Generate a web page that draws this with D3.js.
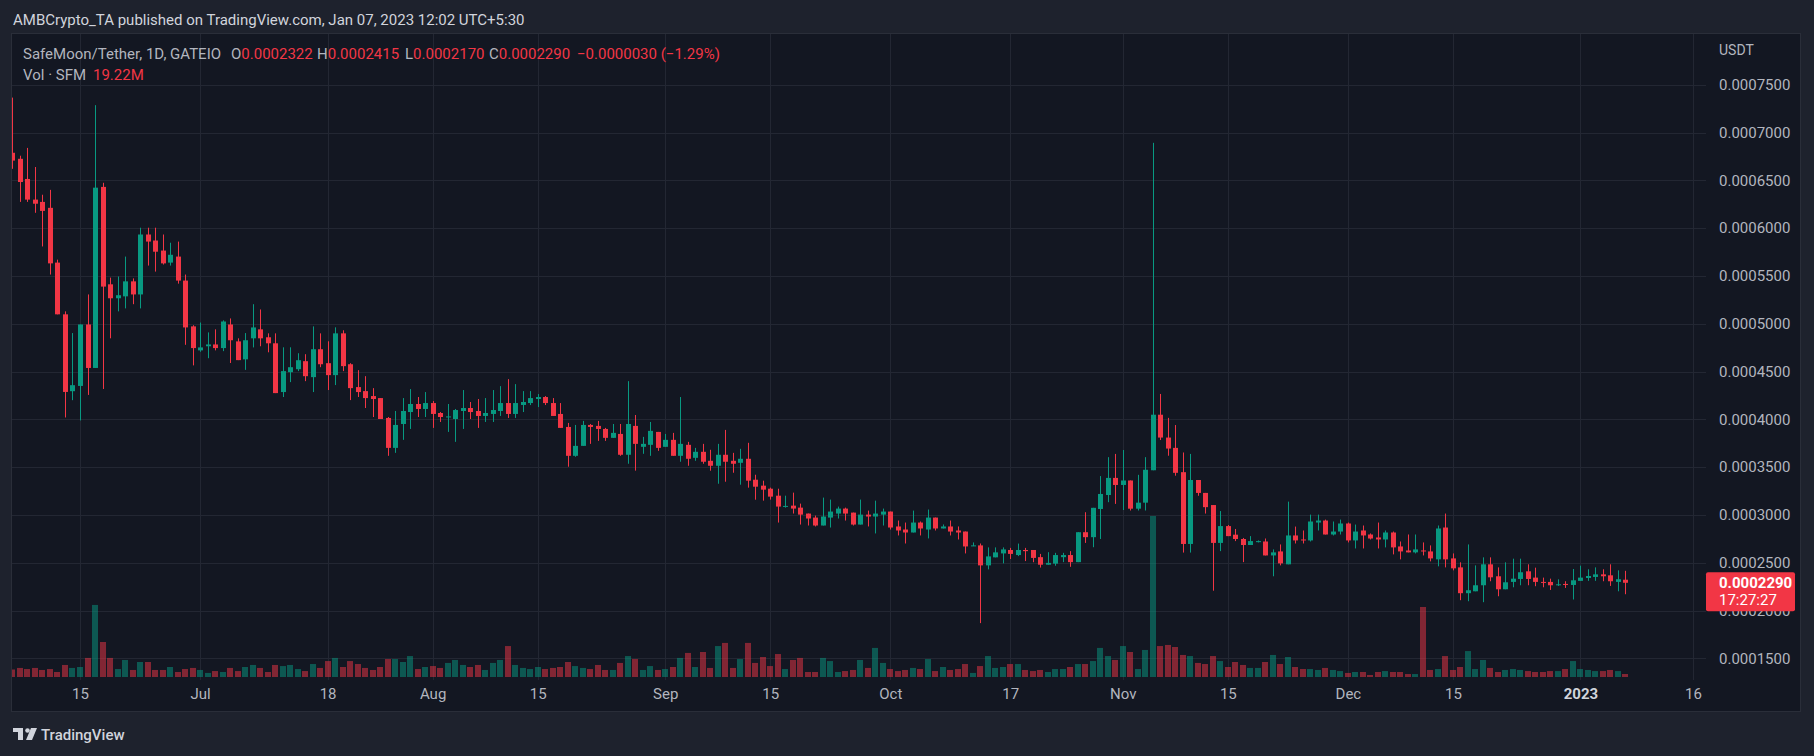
<!DOCTYPE html>
<html><head><meta charset="utf-8">
<script src="https://cdn.jsdelivr.net/npm/d3@7"></script>
<style>
html,body{margin:0;padding:0;background:#1e222d;}
svg{display:block;}
text{font-family:Roboto,"Noto Sans",sans-serif;}
</style></head><body>
<svg id="chart" width="1814" height="756"></svg>
<script>
// ---------- DATA (daily candles, SafeMoon/Tether, GATEIO) ----------
const firstDate = "2022-06-06";
const openP = [
0.0006788,0.0006725,0.0006514,0.0006298,0.0006274,0.0006212,0.0005639,0.0005098,0.0004294,0.0004349,0.0004992,0.0004537,0.0006431,0.0005412,0.0005266,0.0005286,0.0005443,0.0005306,0.0005933,0.000587,0.0005765,0.0005639,0.0005702,0.0005451,0.0004972,
0.0004721,0.0004764,0.0004783,0.0004745,0.0004992,0.0004815,0.0004627,0.0004847,0.0004941,0.0004858,0.0004795,0.0004285,0.0004493,0.0004524,0.0004608,0.0004441,0.0004733,0.0004587,0.0004462,0.0004899,0.0004576,0.0004337,0.0004295,0.0004243,0.0004222,0.0004014,0.0003701,0.0003951,0.0004076,0.000416,0.0004108,
0.000417,0.0004066,0.0004024,0.0004003,0.0004087,0.0004118,0.0004087,0.0004035,0.0004056,0.0004087,0.000417,0.0004056,0.000415,0.000417,0.0004212,0.0004233,0.000417,0.0004056,0.000392,0.0003618,0.0003722,0.0003941,0.0003931,0.0003899,0.0003806,0.0003847,0.0003629,0.0003931,0.0003712,0.0003733,0.0003868,
0.0003712,0.0003785,0.0003618,0.0003733,0.0003597,0.000366,0.0003566,0.0003514,0.0003629,0.0003566,0.0003545,0.0003587,0.0003368,0.0003306,0.0003274,0.0003201,0.0003087,0.0003097,0.0003076,0.0003014,0.0002972,0.0002889,0.0002972,0.0003014,0.0003066,0.0003024,0.0002899,0.0003003,0.0002983,0.0003003,
0.0003035,0.0002879,0.0002847,0.0002816,0.000292,0.0002847,0.0002972,0.0002858,0.0002879,0.0002837,0.0002826,0.0002674,0.0002681,0.0002472,0.0002556,0.0002597,0.0002633,0.000258,0.0002633,0.0002633,0.0002558,0.0002479,0.000249,0.0002558,0.000258,0.0002506,0.0002819,0.0002767,0.0003062,0.0003208,0.0003387,
0.0003313,0.000336,0.0003065,0.0003128,0.0003467,0.0004048,0.0003809,0.0003701,0.0003447,0.0002696,0.0003365,0.000323,0.0003103,0.0002707,0.0002883,0.0002793,0.0002748,0.0002685,0.0002715,0.0002722,0.0002576,0.0002618,0.0002483,0.0002785,0.0002743,0.0002733,0.000292,0.0002941,0.0002795,0.0002826,
0.000291,0.0002733,0.0002837,0.0002795,0.0002764,0.0002743,0.0002816,0.000267,0.0002628,0.0002608,0.0002628,0.0002618,0.0002535,0.0002868,0.0002545,0.0002451,0.0002181,0.0002201,0.0002264,0.0002483,0.0002358,0.0002222,0.0002299,0.000233,0.000241,0.0002344,0.0002299,0.0002299,0.0002264,0.0002278,0.0002267,
0.000231,0.000234,0.0002351,0.0002378,0.0002368,0.0002299,0.0002322];
const highP = [
0.0007365,0.0006757,0.0006839,0.0006639,0.0006349,0.00064,0.000567,0.0005129,0.0004902,0.0004992,0.0005306,0.0007286,0.0006474,0.0005482,0.0005494,0.0005702,0.0005474,0.0006004,0.0006004,0.0006004,0.0005933,0.0005847,0.0005859,0.0005514,0.0004984,
0.0005012,0.0004909,0.0004941,0.0005035,0.0005055,0.0004847,0.0004902,0.0005204,0.0005149,0.0004899,0.0004899,0.0004753,0.0004753,0.0004691,0.0004681,0.0004972,0.0004899,0.0004816,0.0004962,0.0004931,0.0004587,0.0004514,0.0004451,0.0004326,0.0004222,0.0004024,0.0004087,0.0004222,0.0004316,0.0004233,0.0004285,
0.0004191,0.0004076,0.000416,0.0004108,0.0004306,0.0004181,0.0004212,0.0004222,0.0004306,0.0004347,0.000442,0.0004368,0.0004295,0.0004295,0.0004264,0.0004243,0.0004222,0.000417,0.0003962,0.0003941,0.0003983,0.0003951,0.0003983,0.000391,0.0003951,0.0003951,0.0004399,0.0004045,0.0003816,0.0003972,0.0003868,
0.0003847,0.0003858,0.0004233,0.0003764,0.0003701,0.0003743,0.0003681,0.0003743,0.0003889,0.0003649,0.0003691,0.0003754,0.000342,0.0003358,0.0003285,0.0003274,0.0003201,0.0003233,0.0003118,0.0003014,0.0002993,0.0003181,0.000316,0.0003087,0.0003076,0.0003024,0.000316,0.0003045,0.0003149,0.0003066,
0.0003035,0.0002941,0.000292,0.0003045,0.0002931,0.0003056,0.0002972,0.00029,0.0002941,0.0002879,0.0002826,0.0002712,0.0002701,0.000266,0.000266,0.000266,0.0002655,0.00027,0.0002655,0.0002633,0.0002592,0.000261,0.0002603,0.0002603,0.0002621,0.0002819,0.0003028,0.0003074,0.0003406,0.0003604,0.0003638,
0.0003679,0.000336,0.0003419,0.0003604,0.0006892,0.0004265,0.0004015,0.000394,0.0003653,0.0003638,0.0003365,0.000323,0.0003103,0.000304,0.0002894,0.0002853,0.0002759,0.0002778,0.0002733,0.0002753,0.0002639,0.0002691,0.0003139,0.0002878,0.0002837,0.0003003,0.0003003,0.0002951,0.0002931,0.0002951,
0.000292,0.0002899,0.0002889,0.0002806,0.000292,0.0002837,0.0002826,0.0002722,0.0002795,0.0002795,0.0002712,0.0002681,0.0002889,0.0003014,0.0002597,0.0002504,0.0002691,0.0002472,0.0002556,0.0002556,0.0002451,0.0002504,0.0002542,0.0002542,0.0002483,0.0002448,0.0002344,0.0002333,0.0002326,0.0002306,0.0002434,
0.0002469,0.0002431,0.0002451,0.0002431,0.0002483,0.000242,0.0002415];
const lowP = [
0.000662,0.0006274,0.0006274,0.000616,0.0005808,0.0005514,0.0005098,0.0004019,0.00042,0.0003988,0.0004255,0.0004537,0.0004317,0.0004847,0.0005129,0.000516,0.0005204,0.000516,0.0005608,0.0005545,0.0005619,0.0005608,0.0005419,0.0004779,0.0004564,
0.0004706,0.0004639,0.0004721,0.0004713,0.0004589,0.0004619,0.0004517,0.0004752,0.0004764,0.0004701,0.0004274,0.0004233,0.0004389,0.0004504,0.0004399,0.0004285,0.0004545,0.0004306,0.0004358,0.0004504,0.0004201,0.0004233,0.0004118,0.0004024,0.0004003,0.0003618,0.0003649,0.0003785,0.0003899,0.0004024,0.0004024,
0.000391,0.0003972,0.0003868,0.0003764,0.0003899,0.0004003,0.000391,0.0003972,0.0003972,0.0004035,0.0004014,0.0004014,0.0004076,0.0004149,0.0004128,0.0004149,0.0004035,0.000391,0.0003504,0.0003608,0.0003722,0.0003743,0.0003774,0.0003774,0.0003806,0.0003618,0.0003535,0.0003463,0.0003639,0.0003618,0.000367,
0.0003712,0.0003618,0.0003556,0.0003514,0.0003566,0.0003535,0.0003462,0.0003326,0.0003347,0.0003441,0.0003316,0.0003285,0.0003159,0.0003149,0.000316,0.000292,0.0003076,0.0003014,0.0002899,0.0002889,0.0002879,0.0002889,0.0002868,0.0002962,0.0002941,0.0002889,0.0002899,0.0002879,0.0002806,0.0002889,
0.0002847,0.0002785,0.0002701,0.0002816,0.0002785,0.0002754,0.0002837,0.0002858,0.0002785,0.0002743,0.0002597,0.0002674,0.0001868,0.000243,0.0002556,0.0002493,0.0002539,0.0002569,0.0002517,0.0002505,0.0002449,0.0002479,0.0002468,0.0002506,0.0002457,0.0002506,0.0002707,0.0002662,0.0002748,0.0003133,0.0003115,
0.0003051,0.0003046,0.0003046,0.0003046,0.0003467,0.0003783,0.0003619,0.000341,0.0002606,0.0002606,0.00032,0.0003014,0.0002207,0.0002621,0.0002778,0.0002726,0.0002506,0.0002685,0.0002712,0.0002576,0.0002358,0.0002472,0.0002483,0.0002701,0.0002701,0.0002722,0.0002837,0.0002795,0.0002785,0.0002795,
0.0002712,0.0002649,0.0002649,0.0002743,0.0002649,0.000266,0.0002587,0.0002535,0.0002608,0.0002597,0.0002576,0.0002514,0.0002462,0.0002451,0.000242,0.0002108,0.0002097,0.0002201,0.0002087,0.0002306,0.0002149,0.0002222,0.0002243,0.0002264,0.0002264,0.0002254,0.0002243,0.0002215,0.0002257,0.0002236,0.0002115,
0.000231,0.000231,0.000231,0.0002306,0.0002257,0.0002201,0.000217];
const closeP = [
0.0006706,0.0006482,0.0006298,0.0006255,0.000618,0.0005631,0.0005098,0.0004286,0.0004357,0.0004992,0.0004537,0.0006423,0.0005388,0.0005266,0.0005298,0.0005443,0.0005306,0.0005933,0.0005859,0.0005753,0.0005631,0.0005721,0.0005451,0.0004961,0.0004745,
0.0004752,0.0004783,0.0004745,0.0005023,0.0004827,0.0004619,0.0004827,0.0004961,0.0004847,0.0004795,0.0004274,0.0004504,0.0004545,0.0004618,0.0004451,0.0004733,0.0004576,0.0004462,0.0004899,0.0004556,0.0004326,0.0004285,0.0004222,0.0004212,0.0004003,0.0003701,0.0003941,0.0004087,0.000416,0.0004108,0.000417,
0.0004056,0.0004024,0.000403,0.0004097,0.0004118,0.0004076,0.0004035,0.0004066,0.0004097,0.000417,0.0004056,0.000417,0.0004181,0.0004222,0.0004233,0.000417,0.0004035,0.000391,0.0003618,0.0003722,0.0003941,0.000392,0.0003899,0.0003806,0.0003858,0.0003629,0.0003951,0.0003743,0.0003743,0.0003879,0.0003701,
0.0003785,0.0003618,0.0003743,0.0003587,0.000366,0.0003556,0.0003514,0.0003629,0.0003556,0.0003535,0.0003587,0.0003358,0.0003295,0.0003264,0.0003191,0.0003087,0.0003094,0.0003066,0.0003003,0.0002962,0.0002889,0.0002983,0.0003035,0.0003066,0.0003014,0.0002899,0.0003003,0.0002983,0.0003014,0.0003035,
0.0002868,0.0002837,0.0002816,0.000292,0.0002858,0.0002972,0.0002858,0.0002879,0.0002826,0.0002816,0.000267,0.0002681,0.0002472,0.0002566,0.0002608,0.0002639,0.0002592,0.0002633,0.0002621,0.000255,0.0002479,0.0002498,0.000258,0.000258,0.0002506,0.0002819,0.0002767,0.0003074,0.0003219,0.0003387,0.0003313,
0.000336,0.0003065,0.0003128,0.0003472,0.0004048,0.0003809,0.0003694,0.000344,0.0002696,0.0003365,0.000323,0.0003081,0.0002707,0.0002883,0.0002778,0.0002748,0.0002685,0.0002726,0.0002726,0.0002576,0.0002608,0.0002493,0.0002785,0.0002733,0.0002733,0.0002931,0.0002941,0.0002795,0.0002826,0.000291,
0.0002733,0.0002826,0.0002785,0.0002753,0.0002743,0.0002816,0.000266,0.0002618,0.0002608,0.0002639,0.0002618,0.0002545,0.0002858,0.0002535,0.0002441,0.0002181,0.0002212,0.0002264,0.0002483,0.0002347,0.0002222,0.0002295,0.0002333,0.00024,0.000233,0.0002299,0.0002292,0.0002264,0.0002274,0.0002267,0.0002316,
0.0002344,0.0002361,0.0002378,0.0002358,0.0002306,0.0002327,0.000229];
const volumeM = [
48,58,51,58,45,51,32,77,58,64,122,461,224,122,51,109,45,96,96,45,45,64,32,51,58,
45,26,38,32,58,38,64,77,58,32,77,70,77,51,38,83,58,102,122,64,102,83,58,45,64,115,115,96,134,51,64,
70,58,90,109,77,64,77,45,90,109,198,77,58,51,64,51,58,64,96,70,58,51,77,45,45,90,134,115,45,70,45,
51,64,122,154,64,160,58,198,218,58,115,218,90,128,70,147,51,109,122,32,32,122,102,32,38,45,109,58,186,90,
51,38,45,58,51,115,38,64,45,51,83,26,70,134,58,64,83,83,45,38,45,32,51,51,64,83,83,102,186,134,109,
198,160,51,173,1030,198,205,192,141,134,90,83,134,102,64,96,77,58,58,96,141,83,128,64,51,51,45,58,45,38,
26,32,32,13,32,38,32,32,19,19,448,45,51,134,45,64,166,51,109,58,32,45,51,45,38,32,32,38,38,51,102,
51,45,38,38,45,38,19.22];

const priceTicks = [0.00015,0.0002,0.00025,0.0003,0.00035,0.0004,0.00045,0.0005,0.00055,0.0006,0.00065,0.0007,0.00075];
const dateTicks = ["2022-06-15","2022-07-01","2022-07-18","2022-08-01","2022-08-15","2022-09-01","2022-09-15","2022-10-01","2022-10-17","2022-11-01","2022-11-15","2022-12-01","2022-12-15","2023-01-01","2023-01-16"];
const dateTickLabels = ["15","Jul","18","Aug","15","Sep","15","Oct","17","Nov","15","Dec","15","2023","16"];
const lastClose = 0.000229;
const priceChange = -0.000003;
const priceChangePct = -1.29;
const countdown = "17:27:27";

// ---------- BUILD ----------
const UP = "#089981", DOWN = "#f23645";
const parse = s => new Date(s + "T00:00:00Z");
const data = openP.map((o, i) => ({
  date: d3.utcDay.offset(parse(firstDate), i),
  o, h: highP[i], l: lowP[i], c: closeP[i], v: volumeM[i]
}));

const svg = d3.select("#chart");
const plot = {left: 12, right: 1706, top: 34, bottom: 680};

const x = d3.scaleUtc().domain([parse(dateTicks[0]), parse(dateTicks[dateTicks.length - 1])]).range([80, 1693]);
const y = d3.scaleLinear().domain([0.00015, 0.00075]).range([658.3, 84.7]);
const yv = d3.scaleLinear().domain([0, d3.max(volumeM)]).range([677, 516]);

// frame
svg.append("rect").attr("x", 0).attr("y", 0).attr("width", 1814).attr("height", 756).attr("fill", "#1e222d");
svg.append("rect").attr("x", 11.5).attr("y", 33.5).attr("width", 1789).attr("height", 678)
  .attr("fill", "#131722").attr("stroke", "#2a2e39");

// header
svg.append("text").attr("x", 13).attr("y", 25).attr("font-size", 15).attr("fill", "#d1d4dc")
  .text("AMBCrypto_TA published on TradingView.com, Jan 07, 2023 12:02 UTC+5:30");

svg.append("defs").append("clipPath").attr("id", "clip").append("rect")
  .attr("x", plot.left).attr("y", plot.top).attr("width", plot.right - plot.left).attr("height", plot.bottom - plot.top);

// grid
const grid = svg.append("g");
grid.selectAll("line.h").data(priceTicks).join("line")
  .attr("x1", plot.left).attr("x2", plot.right)
  .attr("y1", d => Math.round(y(d)) + 0.5).attr("y2", d => Math.round(y(d)) + 0.5)
  .attr("stroke", "#232733");
grid.selectAll("line.v").data(dateTicks).join("line")
  .attr("x1", d => Math.round(x(parse(d))) + 0.5).attr("x2", d => Math.round(x(parse(d))) + 0.5)
  .attr("y1", plot.top).attr("y2", plot.bottom)
  .attr("stroke", "#232733");

const g = svg.append("g").attr("clip-path", "url(#clip)");

// volume
g.selectAll("rect.vol").data(data).join("rect")
  .attr("x", d => Math.round(x(d.date)) - 3).attr("width", 6)
  .attr("y", d => yv(d.v)).attr("height", d => yv(0) - yv(d.v))
  .attr("fill", d => d.c >= d.o ? UP : DOWN).attr("fill-opacity", 0.5);

// wicks
g.selectAll("line.wick").data(data).join("line")
  .attr("x1", d => Math.round(x(d.date)) + 0.5).attr("x2", d => Math.round(x(d.date)) + 0.5)
  .attr("y1", d => y(d.h)).attr("y2", d => y(d.l))
  .attr("stroke", d => d.c >= d.o ? UP : DOWN).attr("stroke-width", 1);

// bodies
g.selectAll("rect.body").data(data).join("rect")
  .attr("x", d => Math.round(x(d.date)) - 2).attr("width", 5)
  .attr("y", d => y(Math.max(d.o, d.c)))
  .attr("height", d => Math.max(1, Math.abs(y(d.o) - y(d.c))))
  .attr("fill", d => d.c >= d.o ? UP : DOWN);

// legend
const leg = svg.append("text").attr("x", 23).attr("y", 58.5).attr("font-size", 15).attr("fill", "#b2b5be");
const last = data[data.length - 1];
const fmt = d3.format(".7f");
leg.append("tspan").attr("x", 23).text("SafeMoon/Tether, 1D, GATEIO");
[["O", last.o, 231], ["H", last.h, 317], ["L", last.l, 405], ["C", last.c, 489]].forEach(([k, v, px]) => {
  leg.append("tspan").attr("x", px).text(k);
  leg.append("tspan").attr("fill", DOWN).text(fmt(v));
});
leg.append("tspan").attr("x", 577).attr("fill", DOWN)
  .text("\u2212" + fmt(Math.abs(priceChange)) + " (\u2212" + Math.abs(priceChangePct).toFixed(2) + "%)");
const vleg = svg.append("text").attr("x", 23).attr("y", 79.5).attr("font-size", 15).attr("fill", "#b2b5be");
vleg.append("tspan").text("Vol \u00b7 SFM");
vleg.append("tspan").attr("x", 93).attr("fill", DOWN).text(d3.format(".2f")(last.v) + "M");

// price axis
const ya = svg.append("g").attr("transform", "translate(1706,0)")
  .call(d3.axisRight(y).tickValues(priceTicks).tickFormat(d => d.toFixed(7)).tickSize(0).tickPadding(13));
ya.select(".domain").remove();
ya.selectAll("text").attr("font-size", 15).attr("fill", "#b2b5be").attr("font-family", "Roboto");
svg.append("text").attr("x", 1719).attr("y", 55).attr("font-size", 14).attr("fill", "#b2b5be").text("USDT");

// date axis
const xa = svg.append("g").attr("transform", "translate(0,688)")
  .call(d3.axisBottom(x).tickValues(dateTicks.map(parse)).tickFormat((d, i) => dateTickLabels[i]).tickSize(0).tickPadding(0));
xa.select(".domain").remove();
xa.selectAll("text").attr("font-size", 15).attr("font-family", "Roboto")
  .attr("fill", (d, i) => dateTickLabels[i] === "2023" ? "#d1d4dc" : "#b2b5be")
  .attr("font-weight", (d, i) => dateTickLabels[i] === "2023" ? "bold" : "normal");

// last price label
const ly = y(lastClose);
svg.append("rect").attr("x", 1706).attr("y", ly - 10.5).attr("width", 89).attr("height", 39).attr("rx", 2).attr("fill", DOWN);
svg.append("text").attr("x", 1719).attr("y", ly + 5.5).attr("font-size", 15).attr("font-weight", "bold").attr("fill", "#ffffff").text(fmt(lastClose));
svg.append("text").attr("x", 1719).attr("y", ly + 22.5).attr("font-size", 15).attr("fill", "#ffffff").text(countdown);

// footer logo
const logo = svg.append("g").attr("fill", "#d1d4dc");
logo.append("rect").attr("x", 13).attr("y", 728).attr("width", 10).attr("height", 4);
logo.append("rect").attr("x", 18).attr("y", 728).attr("width", 5).attr("height", 12);
logo.append("circle").attr("cx", 27.5).attr("cy", 730.5).attr("r", 2.3);
logo.append("path").attr("d", "M31,728 L37,728 L32,740 L26,740 Z");
svg.append("text").attr("x", 41).attr("y", 740).attr("font-size", 15).attr("font-weight", 500).attr("fill", "#d1d4dc").text("TradingView");
</script>
</body></html>
